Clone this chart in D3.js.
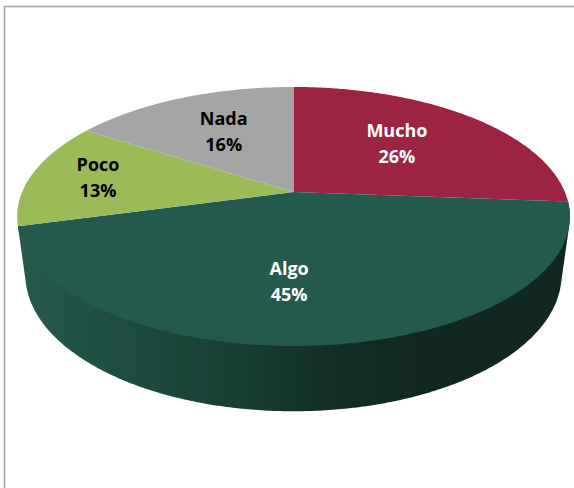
<!DOCTYPE html>
<html>
<head>
<meta charset="utf-8">
<script src="https://cdn.jsdelivr.net/npm/d3@7"></script>
<style>
  html, body { margin: 0; padding: 0; background: #fff; overflow: hidden; }
  svg { display: block; }
  text { font-family: "Open Sans", sans-serif; font-weight: 700; font-size: 18px; }
</style>
</head>
<body>
<svg id="svg1" width="574" height="488"></svg>
<script>
var categories = ["Mucho", "Algo", "Poco", "Nada"];
var values = [26.2, 44.6, 13.3, 15.9];
var colors = ["#9c2342", "#235a4d", "#9bbb59", "#a5a5a5"];
var labelColors = ["#fff", "#fff", "#000", "#000"];

// where each label sits: fraction of radius, then a nudge in px
var labelRadius = [0.58, 0.58, 0.85, 0.58];
var labelNudge = [[-4, -2], [-21, 9], [27, 2], [-1, -2]];

var svg = d3.select("#svg1");

// chart frame runs off the right and bottom of the picture
svg.append("rect")
  .attr("x", 4.5).attr("y", 6.5)
  .attr("width", 700).attr("height", 700)
  .attr("fill", "#fff")
  .attr("stroke", "#a3a3a3")
  .attr("stroke-width", 1.6);

// 3d pie: ground plane perspective, h = 1 is the underside
var cx = 293.5, cy = 192,
  b = 271.4, a = 124.9, k = -0.189,
  c = 59.5, m = 0.03;

function project(theta, r, h) {
  var u = r * Math.sin(theta),
    v = -r * Math.cos(theta),
    w = 1 + k * v + m * h;
  return [cx + b * u / w, cy + (a * v + c * h) / w];
}

function arcPoints(t0, t1, h) {
  var n = Math.ceil(Math.abs(t1 - t0) / 0.01);
  return d3.range(n + 1).map(function(i) {
    return project(t0 + (t1 - t0) * i / n, 1, h);
  });
}

var pie = d3.pie().sort(null).value(function(d) { return d; });
var arcs = pie(values);
var line = d3.line();

var defs = svg.append("defs");
var grad = defs.append("linearGradient")
  .attr("id", "side")
  .attr("gradientUnits", "userSpaceOnUse")
  .attr("x1", 18).attr("x2", 570).attr("y1", 0).attr("y2", 0);
[[0, "#25594c"], [0.2, "#1f4c40"], [0.4, "#193e34"], [0.55, "#132f28"], [0.72, "#102820"], [1, "#0f2720"]]
  .forEach(function(s) {
    grad.append("stop").attr("offset", s[0]).attr("stop-color", s[1]);
  });

// only the front wall of the Algo slice shows
var algo = arcs[1];
var hull = d3.polygonHull(arcPoints(algo.startAngle, algo.endAngle, 0)
  .concat(arcPoints(algo.startAngle, algo.endAngle, 1)));
svg.append("path")
  .attr("d", line(hull) + "Z")
  .attr("fill", "url(#side)");

var g = svg.append("g");
g.selectAll("path")
  .data(arcs)
  .join("path")
  .attr("fill", function(d, i) { return colors[i]; })
  .attr("d", function(d) {
    return line([[cx, cy]].concat(arcPoints(d.startAngle, d.endAngle, 0))) + "Z";
  });

var labels = svg.append("g").attr("text-anchor", "middle");
arcs.forEach(function(d, i) {
  var p = project((d.startAngle + d.endAngle) / 2, labelRadius[i], 0);
  var x = p[0] + labelNudge[i][0], y = p[1] + labelNudge[i][1];
  var t = labels.append("text").attr("fill", labelColors[i]);
  t.append("tspan").attr("x", x).attr("y", y - 7).text(categories[i]);
  t.append("tspan").attr("x", x).attr("y", y + 19).text(d3.format(".0f")(values[i]) + "%");
});
</script>
</body>
</html>
